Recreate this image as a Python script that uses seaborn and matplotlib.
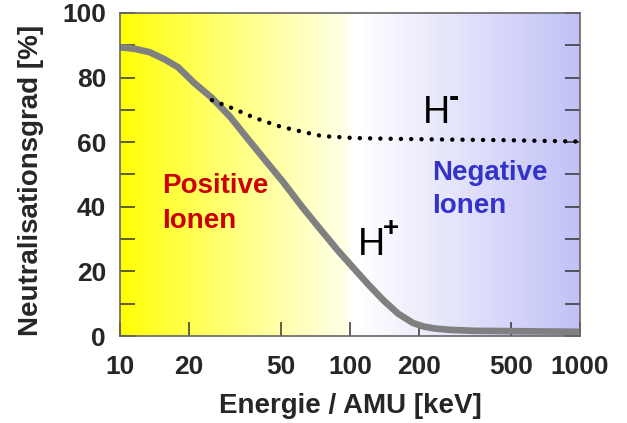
import numpy as np
import pandas as pd
import matplotlib
matplotlib.use("Agg")
import matplotlib.pyplot as plt
import seaborn as sns

# ---- data ----
hplus_energy = [10, 11.6, 13.4, 15.5, 17.9, 20.9, 25.1, 30, 35.8, 42.8, 51.3, 61.4,
                73.4, 88, 104, 121, 140, 162, 188, 210, 235, 273, 350, 500, 700, 1000]
hplus_value = [89.4, 88.9, 87.9, 85.8, 83.2, 78.5, 73.7, 68, 61.2, 54.4, 47.6, 40.3,
               33.5, 26.7, 20.9, 15.7, 11.0, 6.9, 4.0, 2.9, 2.3, 1.9, 1.6, 1.5, 1.4, 1.3]

hminus_energy = [25.1, 31.1, 38.6, 49.5, 61.4, 75.6, 104, 140, 213, 500, 1000]
hminus_value = [73.0, 70.4, 67.5, 64.9, 63.3, 61.9, 61.3, 61.1, 60.9, 60.6, 60.2]

x_ticks = [10, 20, 50, 100, 200, 500, 1000]
x_tick_labels = ["10", "20", "50", "100", "200", "500", "1000"]
y_ticks = [0, 20, 40, 60, 80, 100]
y_minor = [10, 30, 50, 70, 90]

x_label = "Energie / AMU [keV]"
y_label = "Neutralisationsgrad [%]"

df_plus = pd.DataFrame({"E": hplus_energy, "N": hplus_value})
df_minus = pd.DataFrame({"E": hminus_energy, "N": hminus_value})

sns.set_style("ticks")
plt.rcParams["font.family"] = ["Liberation Sans", "DejaVu Sans"]

fig = plt.figure(figsize=(6.27, 4.23), dpi=100)
ax = fig.add_axes([120 / 627, 1 - 336 / 423, 460 / 627, 323 / 423])

# background gradient: yellow -> white (left half), white -> lavender (right half)
n = 1000
t = np.linspace(0, 1, n)
img = np.ones((1, n, 3))
left = t < 0.5
u = t[left] / 0.5
img[0, left, 0] = 1.0
img[0, left, 1] = 1.0
img[0, left, 2] = (235 * u ** 0.9) / 255
right = ~left
s = np.clip((t[right] - 0.52) / 0.48, 0, 1)
img[0, right, 0] = (255 - 62 * s) / 255
img[0, right, 1] = (255 - 62 * s) / 255
img[0, right, 2] = (255 - 8 * s) / 255
ax.imshow(img, extent=[0, 1, 0, 1], transform=ax.transAxes, aspect="auto",
          zorder=0, interpolation="bilinear")

sns.lineplot(data=df_plus, x="E", y="N", ax=ax, color="#808080", linewidth=4.8,
             solid_capstyle="butt", solid_joinstyle="round", zorder=3, sort=True)
sns.lineplot(data=df_minus, x="E", y="N", ax=ax, color="black", linewidth=3.2,
             linestyle=(0, (0.01, 2.3)), dash_capstyle="round", zorder=4, sort=True)

ax.set_xscale("log")
ax.set_xlim(10, 1000)
ax.set_ylim(0, 100)

ax.set_xticks(x_ticks)
ax.set_xticklabels(x_tick_labels)
ax.xaxis.set_minor_locator(matplotlib.ticker.NullLocator())
ax.set_yticks(y_ticks)
ax.set_yticks(y_minor, minor=True)

ax.tick_params(axis="x", which="major", direction="in", length=10, width=1.1,
               color="#333333", top=False, bottom=True, labelsize=19, pad=14)
ax.tick_params(axis="y", which="both", direction="in", length=11, width=1.1,
               color="#333333", left=True, right=True, labelsize=19, pad=10)
for lab in ax.get_xticklabels() + ax.get_yticklabels():
    lab.set_fontweight("bold")

for sp in ax.spines.values():
    sp.set_visible(True)
    sp.set_color("#666666")
    sp.set_linewidth(1.2)
    sp.set_zorder(5)

ax.set_xlabel(x_label, fontsize=20, fontweight="bold", labelpad=10)
ax.set_ylabel(y_label, fontsize=20, fontweight="bold")
ax.yaxis.set_label_coords(-0.165, 0.483)
ax.grid(False)

# annotations
red = "#CC0000"
blue = "#3333CC"
ax.text(0.091, 0.443, "Positive", transform=ax.transAxes, fontsize=20,
        fontweight="bold", color=red, ha="left", va="baseline", zorder=6)
ax.text(0.091, 0.334, "Ionen", transform=ax.transAxes, fontsize=20,
        fontweight="bold", color=red, ha="left", va="baseline", zorder=6)
ax.text(0.678, 0.483, "Negative", transform=ax.transAxes, fontsize=20,
        fontweight="bold", color=blue, ha="left", va="baseline", zorder=6)
ax.text(0.678, 0.381, "Ionen", transform=ax.transAxes, fontsize=20,
        fontweight="bold", color=blue, ha="left", va="baseline", zorder=6)

ax.text(0.517, 0.251, "H", transform=ax.transAxes, fontsize=27,
        color="black", ha="left", va="baseline", zorder=6)
ax.text(0.589, 0.310, "+", transform=ax.transAxes, fontsize=20, fontweight="bold",
        color="black", ha="center", va="baseline", zorder=6)
ax.text(0.659, 0.659, "H", transform=ax.transAxes, fontsize=27,
        color="black", ha="left", va="baseline", zorder=6)
ax.text(0.726, 0.712, "-", transform=ax.transAxes, fontsize=22, fontweight="bold",
        color="black", ha="center", va="baseline", zorder=6)

fig.savefig("out.png", dpi=100)
